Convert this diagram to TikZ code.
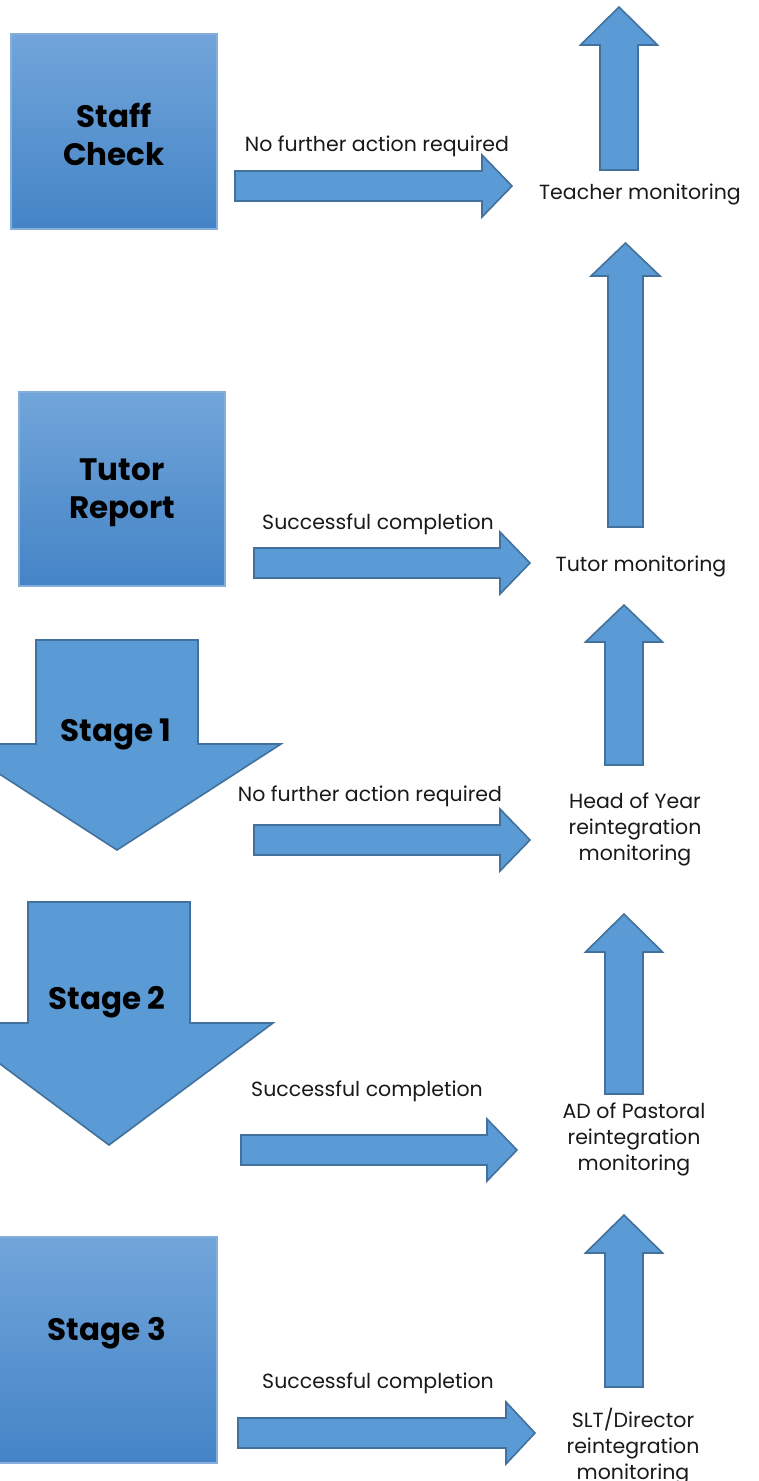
\documentclass[tikz,border=0pt]{standalone}
\usepackage{fontspec}
\setmainfont{Poppins}
\begin{document}
\begin{tikzpicture}[x=1pt,y=-1pt,
  blk/.style={fill=arrowfill,draw=arrowline,line width=1.6pt,line join=miter},
  gbox/.style={draw=boxline,line width=1.2pt,top color=boxtop,bottom color=boxbot},
  bigtxt/.style={font=\fontsize{31}{38}\selectfont\bfseries,align=center,inner sep=0pt},
  lbl/.style={font=\fontsize{20.5}{26}\selectfont,align=center,inner sep=0pt,text=black!90}]
\definecolor{arrowfill}{HTML}{5B9BD5}
\definecolor{arrowline}{HTML}{41719C}
\definecolor{boxtop}{HTML}{71A5DA}
\definecolor{boxbot}{HTML}{4484C6}
\definecolor{boxline}{HTML}{86AEDD}
\useasboundingbox (0,0) rectangle (758,1481);
\clip (0,0) rectangle (758,1481);
% right block arrows: x0, xb, xtip, ymid, shafthalf, headhalf
\newcommand\rightblock[6]{\draw[blk] (#1,{#4-#5}) -- (#2,{#4-#5}) -- (#2,{#4-#6}) -- (#3,#4) -- (#2,{#4+#6}) -- (#2,{#4+#5}) -- (#1,{#4+#5}) -- cycle;}
% up block arrows: cx, ytip, ybase, ybottom, shafthalf, headhalf
\newcommand\upblock[6]{\draw[blk] ({#1-#5},#4) -- ({#1-#5},#3) -- ({#1-#6},#3) -- (#1,#2) -- ({#1+#6},#3) -- ({#1+#5},#3) -- ({#1+#5},#4) -- cycle;}
% down block arrows: cx, ytop, ybase, ytip, shafthalf, headhalf
\newcommand\downblock[6]{\draw[blk] ({#1-#5},#2) -- ({#1+#5},#2) -- ({#1+#5},#3) -- ({#1+#6},#3) -- (#1,#4) -- ({#1-#6},#3) -- ({#1-#5},#3) -- cycle;}

% left column
\draw[gbox] (11,34) rectangle (217,229);
\node[bigtxt] (staff) at (114,134) {Staff\\Check};
\draw[gbox] (19,392) rectangle (225,586);
\node[bigtxt] (tutor) at (122,493) {Tutor\\Report};
\downblock{117}{640}{744}{850}{81}{164}
\node[bigtxt] (st1) at (116,734) {Stage 1};
\downblock{109}{902}{1023}{1145}{81}{164}
\node[bigtxt] (st2) at (107,1002) {Stage 2};
\draw[gbox] (-2,1237) rectangle (217,1463);
\node[bigtxt] (st3) at (107,1333) {Stage 3};

% horizontal arrows
\rightblock{235}{482}{512}{186}{15}{31}
\node[lbl] (l1) at (377,146) {No further action required};
\rightblock{254}{500}{530}{563}{15}{31}
\node[lbl] (l2) at (378,524) {Successful completion};
\rightblock{254}{500}{530}{840}{15}{31}
\node[lbl] (l3) at (370,796) {No further action required};
\rightblock{241}{487}{517}{1150}{15}{31}
\node[lbl] (l4) at (367,1091) {Successful completion};
\rightblock{238}{506}{535}{1433}{15}{31}
\node[lbl] (l5) at (378,1383) {Successful completion};

% right column
\upblock{619}{7}{45}{170}{19}{38.5}
\node[lbl] (m1) at (640,194) {Teacher monitoring};
\upblock{625.5}{243}{276}{527}{17.5}{34.5}
\node[lbl] (m2) at (641,566) {Tutor monitoring};
\upblock{624}{605}{642}{765}{19}{38.5}
\node[lbl] (m3) at (635,829) {Head of Year\\reintegration\\monitoring};
\upblock{624}{914}{952}{1094}{19}{38.5}
\node[lbl] (m4) at (634,1139) {AD of Pastoral\\reintegration\\monitoring};
\upblock{624}{1215}{1253}{1387}{19}{38.5}
\node[lbl] (m5) at (633,1447) {SLT/Director\\reintegration\\monitoring};
\end{tikzpicture}
\end{document}
